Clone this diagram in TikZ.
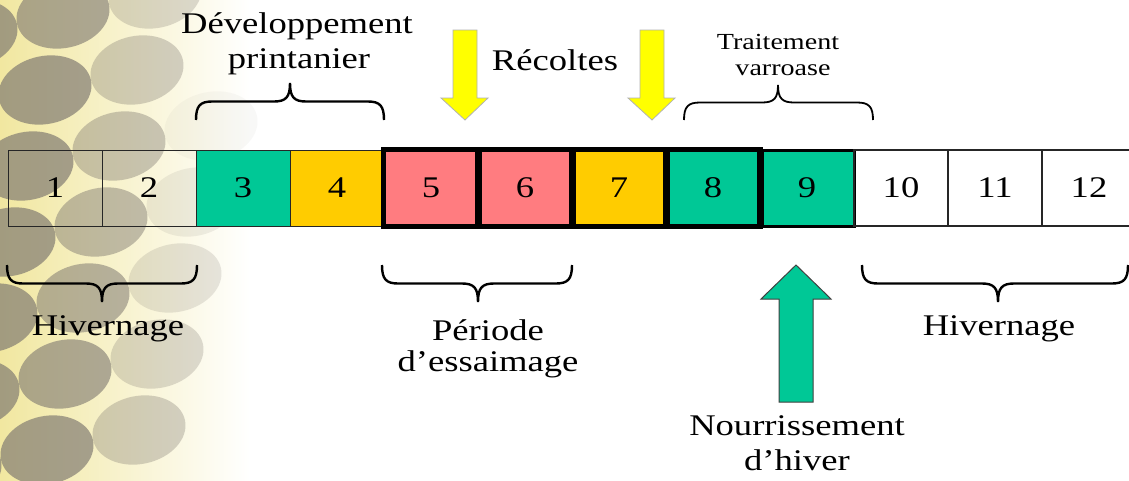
\documentclass[tikz,border=0pt]{standalone}
\usepackage{fontspec}
\usepackage{graphicx}
\setmainfont{Liberation Serif}
\definecolor{cgreen}{HTML}{00C896}
\definecolor{corange}{HTML}{FFCC00}
\definecolor{cpink}{HTML}{FF7C80}
\definecolor{cyellow}{HTML}{FFFF00}
\definecolor{honey}{HTML}{F1E7A0}
\definecolor{blobc}{HTML}{7E7870}
\newcommand\bigf{\fontsize{30}{36}\selectfont}
\newcommand\smallf{\fontsize{23}{28}\selectfont}
\newcommand\sx[1]{\scalebox{1.22}[1]{#1}}
\newcommand\curly[6]{% xL, xR, xm, y0, amplitude (signed), width
  \pgfmathsetmacro\ya{#4-0.38*#5}%
  \pgfmathsetmacro\yb{#4-0.5*#5}%
  \pgfmathsetmacro\yc{#4-0.62*#5}%
  \pgfmathsetmacro\yd{#4-#5}%
  \draw[line width=#6] (#1,#4) .. controls (#1,\ya) and ({#1+4},\yb) .. ({#1+16},\yb)
    -- ({#3-16},\yb) .. controls ({#3-4},\yb) and (#3,\yc) .. (#3,\yd)
    .. controls (#3,\yc) and ({#3+4},\yb) .. ({#3+16},\yb)
    -- ({#2-16},\yb) .. controls ({#2-4},\yb) and (#2,\ya) .. (#2,#4);}
\begin{document}
\begin{tikzpicture}[x=1pt,y=-1pt,
  cell/.style={minimum width=94pt, minimum height=76pt, inner sep=0pt, font=\bigf},
  thincell/.style={cell, draw=black!85, line width=1pt},
  lbl/.style={font=\bigf, inner sep=0pt, anchor=base},
  slbl/.style={font=\smallf, inner sep=0pt, anchor=base},
  yarrow/.style={fill=cyellow, draw=gray!60, line width=0.8pt},
  garrow/.style={fill=cgreen, draw=black!75, line width=1pt}]
\useasboundingbox (0,0) rectangle (1129,480);
\clip (0,0) rectangle (1129,480);
\fill[white] (0,0) rectangle (1129,480);
% honeycomb background
\begin{scope}
\shade[left color=honey, middle color=honey!40!white, right color=white] (0,0) rectangle (250,480);
\foreach \j in {-1,...,5}{
  \foreach \i in {-1,...,3}{
    \pgfmathsetmacro\cx{45+92*\i-18*\j}
    \pgfmathsetmacro\cy{90-20*\i+76*\j}
    \pgfmathsetmacro\op{max(0,min(0.68,0.85*(1-\cx/225)))}
    \fill[blobc, opacity=\op, rotate around={12:(\cx,\cy)}] (\cx,\cy) ellipse [x radius=47, y radius=34];
  }
}
\end{scope}
% cells
\node[thincell] (m1) at (55,188) {\sx{1}};
\node[thincell] (m2) at (149,188) {\sx{2}};
\node[thincell, fill=cgreen] (m3) at (243,188) {\sx{3}};
\node[thincell, fill=corange] (m4) at (337,188) {\sx{4}};
\node[cell, fill=cpink] (m5) at (431,188) {\sx{5}};
\node[cell, fill=cpink] (m6) at (525,188) {\sx{6}};
\node[cell, fill=corange] (m7) at (619,188) {\sx{7}};
\node[cell, fill=cgreen] (m8) at (713,188) {\sx{8}};
\node[cell, fill=cgreen, draw=black, line width=3pt] (m9) at (807,188) {\sx{9}};
\node[thincell, line width=1.3pt] (m10) at (901,188) {\sx{10}};
\node[thincell, line width=1.3pt] (m11) at (995,188) {\sx{11}};
\node[thincell, line width=1.3pt] (m12) at (1089,188) {\sx{12}};
\draw[line width=5pt] (m5.north west) rectangle (m8.south east);
\foreach \a in {5,6,7,8}{
  \draw[line width=7pt] (m\a.north east) -- (m\a.south east);
}
% top braces and labels
\curly{196}{384}{290}{120}{37}{2.4pt}
\curly{684}{873}{778}{120}{35}{1.8pt}
\node[lbl] (dev1) at (297,33) {\sx{Développement}};
\node[lbl] (dev2) at (299,68) {\sx{printanier}};
\node[lbl] (rec) at (555,70) {\sx{Récoltes}};
\node[slbl] (tr1) at (778,49) {\sx{Traitement}};
\node[slbl] (tr2) at (783,75) {\sx{varroase}};
% yellow arrows
\draw[yarrow] (453,30) -- (477,30) -- (477,98) -- (488,98) -- (465,120) -- (441,98) -- (453,98) -- cycle;
\draw[yarrow] (640,30) -- (664,30) -- (664,98) -- (675,98) -- (652,120) -- (628,98) -- (640,98) -- cycle;
% bottom braces and labels
\curly{7}{197}{102}{265}{-37}{2.4pt}
\curly{382}{572}{478}{265}{-37}{2.4pt}
\curly{862}{1128}{998}{265}{-37}{2.4pt}
\node[lbl] (hiv1) at (108,335) {\sx{Hivernage}};
\node[lbl] (per1) at (488,340) {\sx{Période}};
\node[lbl] (per2) at (488,371) {\sx{d’essaimage}};
\node[lbl] (hiv2) at (999,335) {\sx{Hivernage}};
% green arrow
\draw[garrow] (779,402) -- (779,299) -- (761,299) -- (796,265) -- (831,299) -- (813,299) -- (813,402) -- cycle;
\node[lbl] (nour1) at (797,435) {\sx{Nourrissement}};
\node[lbl] (nour2) at (797,470) {\sx{d’hiver}};
\end{tikzpicture}
\end{document}
